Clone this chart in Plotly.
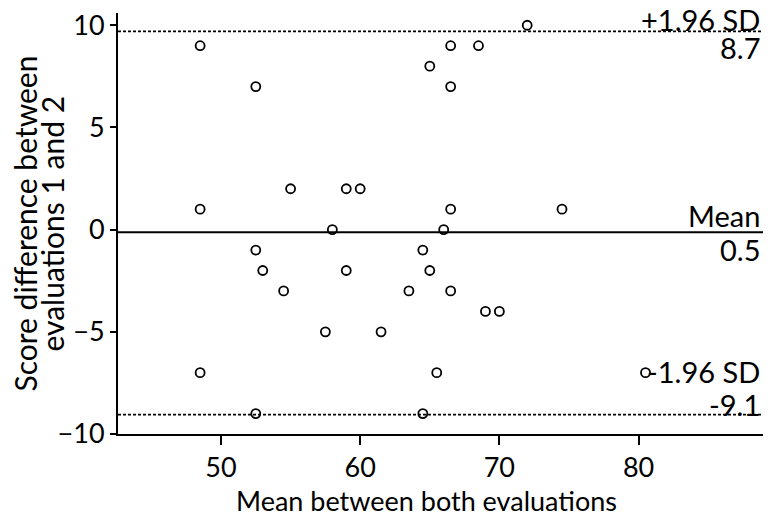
import plotly.graph_objects as go

# Data
mean_eval = [48.5, 52.5, 66.5, 68.5, 72.0, 65.0, 66.5,
             55.0, 59.0, 60.0, 48.5, 66.5, 74.5,
             58.0, 66.0,
             52.5, 64.5, 53.0, 59.0, 65.0, 54.5, 63.5, 66.5, 69.0, 70.0, 57.5, 61.5,
             48.5, 65.5, 80.5, 52.5, 64.5]
diff_eval = [9, 7, 9, 9, 10, 8, 7,
             2, 2, 2, 1, 1, 1,
             0, 0,
             -1, -1, -2, -2, -2, -3, -3, -3, -4, -4, -5, -5,
             -7, -7, -7, -9, -9]

line_values = [9.7, -0.13, -9.05]          # drawn positions of +1.96SD, mean, -1.96SD
line_names = ["+1.96 SD", "Mean", "-1.96 SD"]
line_labels = ["8.7", "0.5", "-9.1"]
line_dash = ["3px,2px", "solid", "3px,2px"]

x_ticks = [50, 60, 70, 80]
y_ticks = [-10, -5, 0, 5, 10]
x_title = "Mean between both evaluations"
y_title_lines = ["Score difference between", "evaluations 1 and 2"]

FONT = "Lato"

fig = go.Figure()
fig.add_trace(go.Scatter(
    x=mean_eval, y=diff_eval, mode="markers",
    marker=dict(symbol="circle-open", size=9, color="black", line=dict(width=1.8, color="black")),
    showlegend=False, hoverinfo="skip"))

for v, d in zip(line_values, line_dash):
    fig.add_shape(type="line", xref="paper", x0=0, x1=1, yref="y", y0=v, y1=v,
                  line=dict(color="black", width=2 if d == "solid" else 1.8, dash=d))

name_shift = [-8, -3, 24]
label_shift = [3, 2, -9]
for i, (v, n, lab) in enumerate(zip(line_values, line_names, line_labels)):
    below_line = i < 2   # lower limit has both texts stacked above its line
    fig.add_annotation(xref="paper", x=1, xshift=-6, yref="y", y=v, text=n, showarrow=False,
                       xanchor="right", yanchor="bottom", yshift=name_shift[i],
                       font=dict(family=FONT, size=29, color="black"))
    fig.add_annotation(xref="paper", x=1, xshift=-6, yref="y", y=v, text=lab, showarrow=False,
                       xanchor="right", yanchor="top" if below_line else "bottom",
                       yshift=label_shift[i],
                       font=dict(family=FONT, size=29, color="black"))

for i, t in enumerate(y_title_lines):
    fig.add_annotation(xref="paper", x=0, xshift=-94 + 27 * i, yref="paper", y=0.5,
                       text=t, textangle=-90, showarrow=False,
                       xanchor="center", yanchor="middle",
                       font=dict(family=FONT, size=30, color="black"))

fig.add_annotation(xref="paper", x=0.5, xshift=-17, yref="paper", y=0, yshift=-66,
                   text=x_title, showarrow=False, xanchor="center", yanchor="middle",
                   font=dict(family=FONT, size=27, color="black"))

fig.update_layout(
    width=763, height=519,
    margin=dict(l=110, r=3, t=0, b=93),
    paper_bgcolor="white", plot_bgcolor="white",
    xaxis=dict(range=[42.6, 89.3], tickvals=x_ticks, ticks="outside", ticklen=9, tickwidth=2,
               tickcolor="black", showline=True, linecolor="black", linewidth=2,
               showgrid=False, zeroline=False, ticklabeloverflow="allow",
               tickfont=dict(family=FONT, size=27, color="black")),
    yaxis=dict(range=[-10, 10.6], tickvals=y_ticks, ticks="outside", ticklen=6, tickwidth=2,
               tickcolor="black", showline=True, linecolor="black", linewidth=2, mirror=True,
               showgrid=False, zeroline=False, ticklabeloverflow="allow",
               tickfont=dict(family=FONT, size=27, color="black")),
)

fig.write_html("out.html")
